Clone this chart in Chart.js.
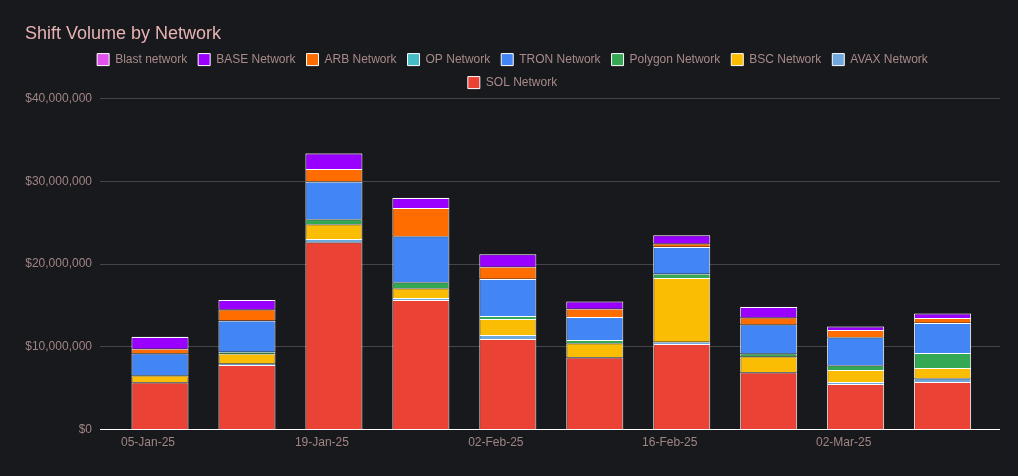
<!DOCTYPE html>
<html>
<head>
  <title>Shift Volume by Network</title>
  <script src="https://cdn.jsdelivr.net/npm/chart.js"></script>
  <style>
    body { margin: 0; background: #18191c; }
    #wrap { width: 1018px; height: 476px; }
  </style>
</head>
<body>
  <div id="wrap"><canvas id="chart"></canvas></div>
  <script>
    // weeks (values in $ millions)
    const weeks = ["05-Jan-25", "12-Jan-25", "19-Jan-25", "26-Jan-25", "02-Feb-25",
                   "09-Feb-25", "16-Feb-25", "23-Feb-25", "02-Mar-25", "09-Mar-25"];

    const sol     = [5.70, 7.80, 22.65, 15.65, 10.95, 8.70, 10.35, 6.90, 5.50, 5.75];
    const avax    = [0.05, 0.20, 0.38, 0.24, 0.48, 0.06, 0.27, 0.05, 0.24, 0.46];
    const bsc     = [0.80, 1.17, 1.79, 1.20, 1.93, 1.69, 7.70, 1.87, 1.45, 1.23];
    const polygon = [0.05, 0.25, 0.60, 0.73, 0.36, 0.39, 0.51, 0.39, 0.60, 1.81];
    const tron    = [2.60, 3.72, 4.53, 5.56, 4.47, 2.76, 3.24, 3.48, 3.38, 3.63];
    const op      = [0.02, 0.03, 0.04, 0.03, 0.03, 0.02, 0.03, 0.02, 0.02, 0.02];
    const arb     = [0.55, 1.33, 1.51, 3.38, 1.45, 0.97, 0.39, 0.85, 0.85, 0.60];
    const base    = [1.42, 1.15, 1.87, 1.21, 1.51, 0.90, 1.00, 1.27, 0.42, 0.54];
    const blast   = [0.03, 0.02, 0.05, 0.03, 0.02, 0.02, 0.04, 0.02, 0.02, 0.03];

    const series = [
      ["SOL Network", sol, "#ea4335"],
      ["AVAX Network", avax, "#6fa8dc"],
      ["BSC Network", bsc, "#fbbc04"],
      ["Polygon Network", polygon, "#34a853"],
      ["TRON Network", tron, "#4285f4"],
      ["OP Network", op, "#46bdc6"],
      ["ARB Network", arb, "#ff6d01"],
      ["BASE Network", base, "#9900ff"],
      ["Blast network", blast, "#e052eb"]
    ];

    const font = "'Liberation Sans', Arial, sans-serif";

    // legend wraps narrower than the canvas (SOL goes on a second row)
    const legendWrap = {
      id: "legendWrap",
      beforeLayout(chart) {
        const lg = chart.legend;
        if (lg && !lg._wrapped) {
          const orig = lg.update.bind(lg);
          lg.update = (w, h, m) => orig(Math.min(w, 900), h, m);
          lg._wrapped = true;
        }
      }
    };

    new Chart(document.getElementById("chart"), {
      type: "bar",
      data: {
        datasets: series.map(([label, data, color]) => ({
          label: label,
          data: data.map((v, i) => ({ x: i, y: v * 1e6 })),
          backgroundColor: color,
          borderColor: "#ffffff",
          borderWidth: 1,
          barPercentage: 0.82,
          categoryPercentage: 0.8
        }))
      },
      plugins: [legendWrap],
      options: {
        responsive: true,
        maintainAspectRatio: false,
        animation: false,
        layout: { padding: { left: 25, right: 18, top: 0, bottom: 28 } },
        plugins: {
          title: {
            display: true,
            text: "Shift Volume by Network",
            align: "start",
            color: "#e6b3b3",
            font: { family: font, size: 18, weight: "normal" },
            padding: { top: 23, bottom: -2 }
          },
          legend: {
            reverse: true,
            labels: {
              color: "#a88a8a",
              font: { family: font, size: 12 },
              boxWidth: 12,
              boxHeight: 12,
              padding: 11
            }
          },
          tooltip: { enabled: false }
        },
        scales: {
          x: {
            type: "linear",
            stacked: true,
            offset: false,
            min: -0.69,
            max: 9.66,
            grid: { display: false },
            border: { display: false },
            ticks: {
              stepSize: 2,
              includeBounds: false,
              color: "#a08585",
              font: { family: font, size: 12 },
              maxRotation: 0,
              padding: -2,
              labelOffset: -12,
              callback: v => weeks[v] || ""
            }
          },
          y: {
            stacked: true,
            min: 0,
            max: 40e6,
            border: { display: false },
            afterFit: scale => { scale.width = 75; },
            grid: {
              color: ctx => (ctx.tick && ctx.tick.value === 0 ? "#ffffff" : "#444548"),
              drawTicks: false
            },
            ticks: {
              stepSize: 10e6,
              padding: 8,
              color: "#a08585",
              font: { family: font, size: 12 },
              callback: v => "$" + Number(v).toLocaleString("en-US")
            }
          }
        }
      }
    });
  </script>
</body>
</html>
